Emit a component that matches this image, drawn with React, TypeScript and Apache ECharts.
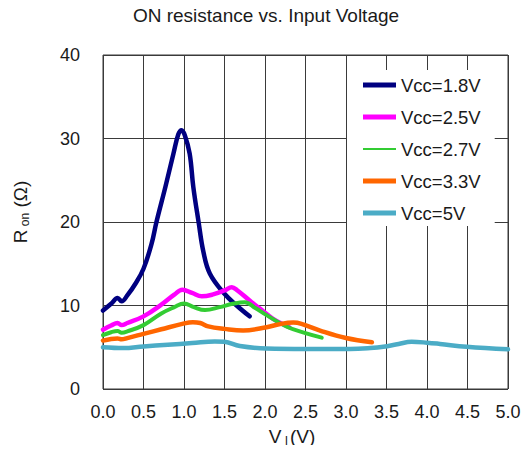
import React, { useEffect, useRef } from "react";
import * as echarts from "echarts";

const titleText = "ON resistance vs. Input Voltage";
const seriesNames = ["Vcc=1.8V", "Vcc=2.5V", "Vcc=2.7V", "Vcc=3.3V", "Vcc=5V"];
const seriesColors = ["#000080", "#ff00ff", "#33cc33", "#ff6600", "#4bacc6"];

const vcc18 = [[0,9.4],[0.1,10.2],[0.18,10.9],[0.23,10.5],[0.3,11.2],[0.4,12.6],[0.5,14.4],[0.6,17.4],[0.66,20.0],[0.77,24.2],[0.87,28.2],[0.93,30.5],[0.97,31.0],[1.01,30.4],[1.07,28.2],[1.115,24.2],[1.18,20.0],[1.24,16.4],[1.32,13.8],[1.5,11.4],[1.65,10.0],[1.81,8.7]];
const vcc25 = [[0,7.1],[0.1,7.6],[0.18,7.9],[0.23,7.65],[0.3,7.9],[0.5,8.7],[0.72,10.1],[0.88,11.3],[0.98,11.9],[1.1,11.5],[1.22,11.1],[1.35,11.3],[1.5,11.8],[1.59,12.2],[1.66,11.8],[1.81,10.6],[1.96,9.45],[2.1,8.4],[2.3,7.4]];
const vcc27 = [[0,6.45],[0.1,6.8],[0.18,6.95],[0.23,6.75],[0.3,6.9],[0.5,7.65],[0.72,9.05],[0.88,9.8],[1.0,10.25],[1.12,9.8],[1.26,9.45],[1.44,9.8],[1.6,10.2],[1.75,10.4],[1.88,9.7],[2.02,8.85],[2.27,7.45],[2.5,6.7],[2.7,6.15]];
const vcc33 = [[0,5.8],[0.1,6.0],[0.18,6.05],[0.23,5.95],[0.3,6.1],[0.5,6.6],[0.72,7.15],[0.98,7.8],[1.11,8.0],[1.2,7.9],[1.3,7.5],[1.5,7.2],[1.73,7.0],[2.02,7.4],[2.2,7.8],[2.35,7.95],[2.45,7.8],[2.68,7.0],[3.0,6.1],[3.32,5.6]];
const vcc5 = [[0,5.0],[0.25,4.9],[0.5,5.1],[0.8,5.3],[1.1,5.5],[1.38,5.7],[1.5,5.65],[1.69,5.15],[2.02,4.85],[2.5,4.8],[3.05,4.8],[3.3,4.9],[3.46,5.05],[3.65,5.4],[3.81,5.65],[4.0,5.55],[4.16,5.4],[4.49,5.05],[5.0,4.75]];
const allSeries = [vcc18, vcc25, vcc27, vcc33, vcc5];

const FONT = "'Liberation Sans', Arial, sans-serif";
const TXT = "#1a1a1a";
const GRID = "#3a3a3a";

export default function App() {
  const ref = useRef<HTMLDivElement>(null);
  useEffect(() => {
    const chart = echarts.init(ref.current!, null, { renderer: "svg" });
    chart.setOption({
      animation: false,
      backgroundColor: "#fff",
      title: {
        text: titleText,
        left: "center",
        top: 6,
        padding: 0,
        textStyle: { fontFamily: FONT, fontSize: 19, fontWeight: "normal", color: TXT },
      },
      grid: { left: 103, top: 55, right: 24, bottom: 64, show: true, borderColor: GRID, borderWidth: 1 },
      xAxis: {
        type: "value", min: 0, max: 5, interval: 0.5,
        axisLine: { show: false }, axisTick: { show: false },
        splitLine: { show: true, lineStyle: { color: GRID, width: 1 } },
        axisLabel: { margin: 14, fontFamily: FONT, fontSize: 18, color: TXT, formatter: (v: number) => v.toFixed(1) },
      },
      yAxis: {
        type: "value", min: 0, max: 40, interval: 10,
        axisLine: { show: false }, axisTick: { show: false },
        splitLine: { show: true, lineStyle: { color: GRID, width: 1 } },
        axisLabel: { margin: 23, fontFamily: FONT, fontSize: 18, color: TXT },
      },
      legend: {
        orient: "vertical",
        left: 347,
        top: 70,
        padding: [4, 14, 2, 16],
        backgroundColor: "#fff",
        itemWidth: 33,
        itemHeight: 5,
        itemGap: 10,
        textStyle: { fontFamily: FONT, fontSize: 18.5, color: TXT, lineHeight: 22 },
        data: seriesNames.map((n, i) => ({
          name: n,
          icon: i === 2 ? "path://M0,0h33v2h-33z" : "path://M0,0h33v5h-33z",
          itemStyle: { color: seriesColors[i] },
        })),
      },
      graphic: [
        {
          type: "text",
          x: 292,
          y: 436,
          style: {
            text: "{n|V}{s| I}{n|(V)}",
            align: "center",
            verticalAlign: "middle",
            fill: TXT,
            rich: {
              n: { fontFamily: FONT, fontSize: 19, color: TXT, lineHeight: 22 },
              s: { fontFamily: FONT, fontSize: 12, color: "#5a1a5a", verticalAlign: "bottom", lineHeight: 14, padding: [0, 2, 0, 0] },
            },
          },
        },
        {
          type: "text",
          x: 20,
          y: 212,
          rotation: Math.PI / 2,
          style: {
            text: "{n|R}{s| on}{n| (Ω)}",
            align: "center",
            verticalAlign: "middle",
            fill: TXT,
            rich: {
              n: { fontFamily: FONT, fontSize: 19, color: TXT, lineHeight: 22 },
              s: { fontFamily: FONT, fontSize: 12, color: TXT, verticalAlign: "bottom", lineHeight: 14 },
            },
          },
        },
      ],
      series: allSeries.map((d, i) => ({
        name: seriesNames[i],
        type: "line",
        data: d,
        smooth: 0.4,
        showSymbol: false,
        symbol: "none",
        color: seriesColors[i],
        lineStyle: { color: seriesColors[i], width: i === 2 ? 4 : 4.5, cap: "round", join: "round" },
      })),
    });
    return () => chart.dispose();
  }, []);
  return <div ref={ref} style={{ width: 532, height: 453, margin: -8 }} />;
}
